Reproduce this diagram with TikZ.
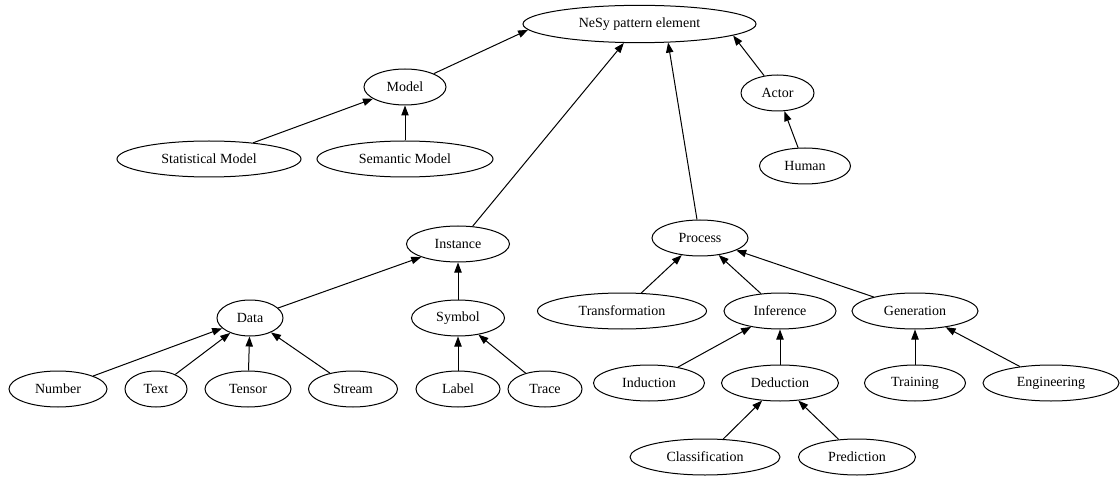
\documentclass[tikz,border=0pt]{standalone}
\usepackage{fontspec}
\setmainfont{Liberation Serif}
\usetikzlibrary{shapes.geometric,arrows.meta}

\tikzset{every picture/.style={line width=0.75pt}}
\tikzset{
  cls/.style={draw, ellipse, inner sep=0pt, minimum height=27pt,
    font=\fontsize{10.5}{12}\selectfont},
  wd/.style={minimum width=#1*0.75pt},
  isa/.style={-{Triangle[length=7.5pt,width=5.5pt]}}
}

\begin{document}
\begin{tikzpicture}[x=0.75pt,y=0.75pt,yscale=-1,xscale=1]
\useasboundingbox (0,0) rectangle (1120,477);

%Shape: Ellipse (root)
\node [cls, wd=233, minimum height=28pt] (nesy) at (639.5,24) {NeSy pattern element};
%Shape: Ellipse (first level)
\node [cls, wd=82] (model) at (405,87) {Model};
\node [cls, wd=73] (actor) at (777.5,93) {Actor};
\node [cls, wd=103] (instance) at (458,244) {Instance};
\node [cls, wd=96] (process) at (700,238) {Process};
%Shape: Ellipse (models)
\node [cls, wd=184] (statmodel) at (209,159) {Statistical Model};
\node [cls, wd=176] (semmodel) at (405,159) {Semantic Model};
\node [cls, wd=91] (human) at (805,166) {Human};
%Shape: Ellipse (instances)
\node [cls, wd=66] (data) at (250,318) {Data};
\node [cls, wd=93] (symbol) at (458,318) {Symbol};
\node [cls, wd=98] (number) at (58,389) {Number};
\node [cls, wd=62] (text) at (156,389) {Text};
\node [cls, wd=86] (tensor) at (248,389) {Tensor};
\node [cls, wd=89] (stream) at (353,389) {Stream};
\node [cls, wd=84] (label) at (458,389) {Label};
\node [cls, wd=74] (trace) at (545,389) {Trace};
%Shape: Ellipse (processes)
\node [cls, wd=169] (transform) at (622,311) {Transformation};
\node [cls, wd=112] (inference) at (780,311) {Inference};
\node [cls, wd=126] (generation) at (915,311) {Generation};
\node [cls, wd=111] (induction) at (649,383) {Induction};
\node [cls, wd=117] (deduction) at (780,383) {Deduction};
\node [cls, wd=101] (training) at (915,383) {Training};
\node [cls, wd=136] (engineering) at (1051,383) {Engineering};
\node [cls, wd=150] (classif) at (705,457) {Classification};
\node [cls, wd=117] (prediction) at (857,457) {Prediction};

%Straight Lines (to root)
\draw [isa] (model) -- (nesy.183);
\draw [isa] (instance) -- (nesy);
\draw [isa] (process) -- (nesy.-33);
\draw [isa] (actor) -- (nesy.-7);
%Straight Lines (models, actors)
\draw [isa] (statmodel) -- (model);
\draw [isa] (semmodel) -- (model);
\draw [isa] (human) -- (actor);
%Straight Lines (instances)
\draw [isa] (data) -- (instance);
\draw [isa] (symbol) -- (instance);
\draw [isa] (number) -- (data);
\draw [isa] (text) -- (data);
\draw [isa] (tensor) -- (data);
\draw [isa] (stream) -- (data);
\draw [isa] (label) -- (symbol);
\draw [isa] (trace) -- (symbol);
%Straight Lines (processes)
\draw [isa] (transform) -- (process);
\draw [isa] (inference) -- (process);
\draw [isa] (generation) -- (process);
\draw [isa] (induction) -- (inference);
\draw [isa] (deduction) -- (inference);
\draw [isa] (training) -- (generation);
\draw [isa] (engineering) -- (generation);
\draw [isa] (classif) -- (deduction);
\draw [isa] (prediction) -- (deduction);

\end{tikzpicture}
\end{document}
